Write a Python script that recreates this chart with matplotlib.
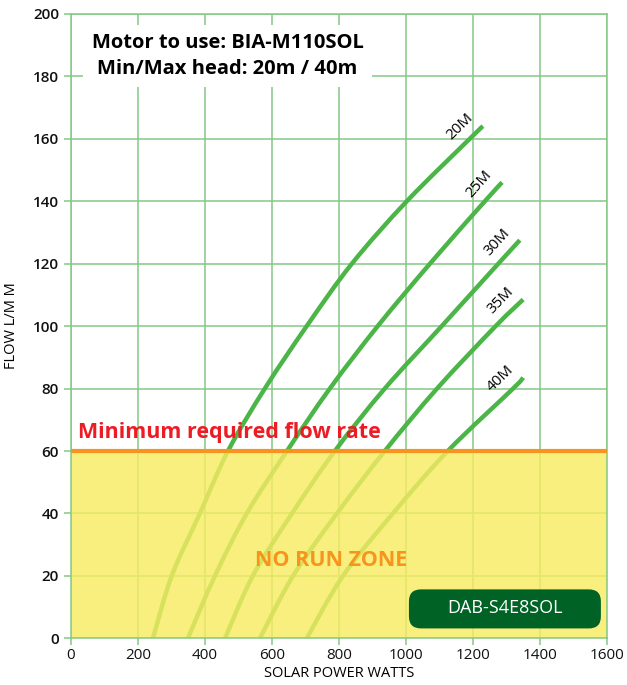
import matplotlib.pyplot as plt
from matplotlib.patches import FancyBboxPatch, PathPatch
from matplotlib.path import Path
import numpy as np

plt.rcParams['font.family'] = ['Open Sans', 'DejaVu Sans']

# head curves: solar watts vs flow (L/min)
heads = ['20M', '25M', '30M', '35M', '40M']
watts = [
	[245, 301, 385, 469, 579, 704, 839, 1003, 1191, 1230],
	[349, 430, 525, 645, 773, 916, 1072, 1236, 1287],
	[460, 543, 660, 788, 937, 1107, 1276, 1340],
	[564, 663, 794, 937, 1093, 1268, 1350],
	[704, 812, 961, 1125, 1320, 1350],
]
flow = [
	[0, 20, 40, 60, 80, 100, 120, 140, 160, 164],
	[0, 20, 40, 60, 80, 100, 120, 140, 146],
	[0, 20, 40, 60, 80, 100, 120, 127.5],
	[0, 20, 40, 60, 80, 100, 108.5],
	[0, 20, 40, 60, 80, 83.5],
]
min_flow = 60

x_ticks = list(range(0, 1601, 200))
y_ticks = list(range(0, 201, 20))

grid_green = '#86c886'
curve_green = '#4cb548'


def smooth_path(xs, ys):
	# bezier path through the read points (catmull-rom control points)
	p = np.column_stack([xs, ys]).astype(float)
	verts = [p[0]]
	codes = [Path.MOVETO]
	for i in range(len(p) - 1):
		p0 = p[i - 1] if i > 0 else p[i]
		p3 = p[i + 2] if i + 2 < len(p) else p[i + 1]
		c1 = p[i] + (p[i + 1] - p0) / 6
		c2 = p[i + 1] - (p3 - p[i]) / 6
		verts += [c1, c2, p[i + 1]]
		codes += [Path.CURVE4] * 3
	return Path(verts, codes)


fig = plt.figure(figsize=(6.27, 6.85), dpi=100)
ax = fig.add_axes([0.113, 0.068, 0.855, 0.912])
ax.set_xlim(0, 1600)
ax.set_ylim(0, 200)
ax.set_xticks(x_ticks)
ax.set_yticks(y_ticks)
ax.grid(True, color=grid_green, linewidth=1.1, zorder=0)
for s in ax.spines.values():
	s.set_color(grid_green)
	s.set_linewidth(1.1)
ax.tick_params(axis='both', colors=grid_green, length=5, width=1.1, labelsize=11, labelcolor='#111111')
ax.tick_params(axis='x', pad=2)
for lab in ax.get_yticklabels():
	lab.set_fontweight('semibold')
ax.set_xlabel('SOLAR POWER WATTS', fontsize=10.5, labelpad=2)
ax.set_ylabel('FLOW L/M M', fontsize=10.5, labelpad=10)

for name, w, f in zip(heads, watts, flow):
	w = np.array(w)
	f = np.array(f)
	ax.add_patch(PathPatch(smooth_path(w, f), facecolor='none', edgecolor=curve_green,
		linewidth=3.2, capstyle='butt', zorder=2))
	ang = np.degrees(np.arctan2(
		(f[-1] - f[-3]) * ax.bbox.height / 200,
		(w[-1] - w[-3]) * ax.bbox.width / 1600))
	ax.text(w[-1] - 20, f[-1] + 1.5, name, rotation=ang, rotation_mode='anchor',
		ha='right', va='bottom', fontsize=11, zorder=3)

# no run zone shading
ax.axhspan(0, min_flow, facecolor='#f8ec62', alpha=0.82, zorder=2.5, linewidth=0)
ax.axhline(min_flow, color='#f7941d', linewidth=3, zorder=3)
ax.text(22, min_flow + 2.5, 'Minimum required flow rate', color='#ed1c24',
	fontsize=15.5, fontweight='bold', ha='left', va='bottom', zorder=4)
ax.text(776, 25, 'NO RUN ZONE', color='#f7941d', fontsize=15.5,
	fontweight='bold', ha='center', va='center', zorder=4)

box = FancyBboxPatch((1009, 3.2), 573, 12.5, boxstyle='round,pad=0,rounding_size=36',
	mutation_aspect=0.107, facecolor='#006325', edgecolor='none', zorder=4)
ax.add_patch(box)
ax.text(1295, 9.6, 'DAB-S4E8SOL', color='white', fontsize=13,
	ha='center', va='center', zorder=5)

ax.text(468, 186.5, 'Motor to use: BIA-M110SOL\nMin/Max head: 20m / 40m',
	fontsize=14.5, fontweight='bold', ha='center', va='center', linespacing=1.4,
	zorder=5, bbox=dict(facecolor='white', edgecolor='none', pad=6))

fig.savefig('out.png', dpi=100)
